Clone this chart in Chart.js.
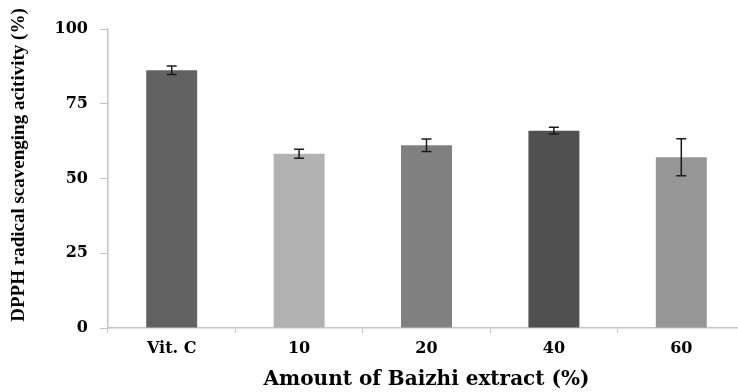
<!DOCTYPE html>
<html>
<head>
<meta charset="utf-8">
<script src="https://cdn.jsdelivr.net/npm/chart.js@4"></script>
<style>
  html, body { margin: 0; padding: 0; background: #fff; overflow: hidden; }
  #wrap { width: 750px; height: 392px; }
</style>
</head>
<body>
<div id="wrap"><canvas id="dpphChart" width="750" height="392"></canvas></div>
<script>
// Values
const categories = ['Vit. C', '10', '20', '40', '60'];
const activity = [86.2, 58.3, 61.1, 66.0, 57.1];
const errors = [1.4, 1.5, 2.1, 1.1, 6.2];
const barColors = ['#626262', '#b2b2b2', '#808080', '#505050', '#969696'];
const yTicks = [0, 25, 50, 75, 100];

const yTitle = 'DPPH radical scavenging acitivity (%)';
const xTitle = 'Amount of Baizhi extract (%)';

const axisColor = '#c4c4c4';

// Draw error bars using the chart's own scales
const errorBarPlugin = {
  id: 'errorBars',
  afterDatasetsDraw(chart) {
    const ctx = chart.ctx;
    const xScale = chart.scales.x;
    const yScale = chart.scales.y;
    ctx.save();
    ctx.strokeStyle = '#1a1a1a';
    ctx.lineWidth = 1.5;
    activity.forEach((v, i) => {
      const x = xScale.getPixelForValue(i);
      const yTop = yScale.getPixelForValue(v + errors[i]);
      const yBot = yScale.getPixelForValue(v - errors[i]);
      const cap = 5;
      ctx.beginPath();
      ctx.moveTo(x, yTop);
      ctx.lineTo(x, yBot);
      ctx.moveTo(x - cap, yTop);
      ctx.lineTo(x + cap, yTop);
      ctx.moveTo(x - cap, yBot);
      ctx.lineTo(x + cap, yBot);
      ctx.stroke();
    });
    ctx.restore();
  }
};

// Rotated y title, placed a bit above the chart area's middle as in the figure
const yTitlePlugin = {
  id: 'yTitle',
  afterDraw(chart) {
    const ctx = chart.ctx;
    ctx.save();
    ctx.translate(19, 165);
    ctx.rotate(-Math.PI / 2);
    ctx.font = 'bold 19px "Liberation Serif"';
    ctx.fillStyle = '#000';
    ctx.textAlign = 'center';
    ctx.textBaseline = 'middle';
    ctx.fillText(yTitle, 0, 0);
    ctx.restore();
  }
};

const ctx = document.getElementById('dpphChart').getContext('2d');
new Chart(ctx, {
  type: 'bar',
  data: {
    labels: categories,
    datasets: [{
      data: activity,
      backgroundColor: barColors,
      borderWidth: 0,
      barPercentage: 1,
      categoryPercentage: 0.4
    }]
  },
  options: {
    responsive: false,
    animation: false,
    layout: { padding: { top: 29, right: 5, left: 0, bottom: 0 } },
    plugins: {
      legend: { display: false },
      tooltip: { enabled: false }
    },
    scales: {
      x: {
        grid: {
          offset: true,
          drawOnChartArea: false,
          drawTicks: true,
          tickLength: 5,
          color: axisColor
        },
        border: { color: axisColor, width: 1.5 },
        ticks: {
          color: '#000',
          padding: 6,
          font: { family: '"DejaVu Serif"', weight: 'bold', size: 16 }
        },
        title: {
          display: true,
          text: xTitle,
          color: '#000',
          padding: { top: 13, bottom: 0 },
          font: { family: '"DejaVu Serif"', weight: 'bold', size: 20 }
        },
        afterFit(scale) { scale.height = 64; }
      },
      y: {
        min: 0,
        max: 100,
        afterBuildTicks(scale) {
          scale.ticks = yTicks.map(v => ({ value: v }));
        },
        grid: {
          drawOnChartArea: false,
          drawTicks: true,
          tickLength: 8,
          color: axisColor
        },
        border: { color: axisColor, width: 1.5 },
        ticks: {
          color: '#000',
          padding: 12,
          font: { family: '"DejaVu Serif"', weight: 'bold', size: 16 }
        },
        afterFit(scale) { scale.width = 108; }
      }
    }
  },
  plugins: [errorBarPlugin, yTitlePlugin]
});
</script>
</body>
</html>
